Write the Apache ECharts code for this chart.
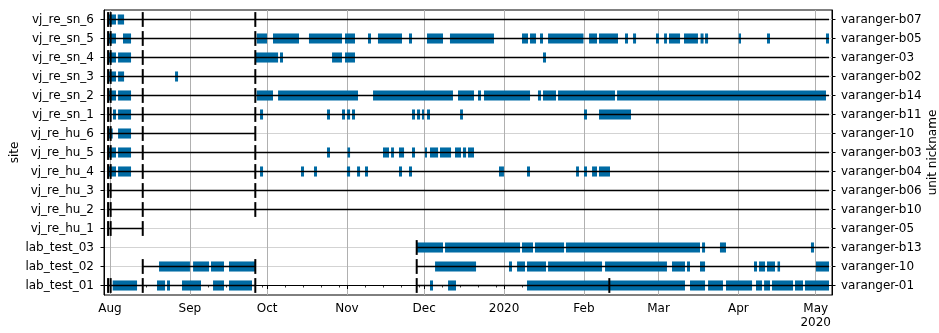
<!DOCTYPE html>
<html>
<head>
<meta charset="utf-8">
<title>Deployment and data coverage per site</title>
<script src="https://cdn.jsdelivr.net/npm/echarts@6/dist/echarts.min.js"></script>
<style>
  html, body { margin: 0; padding: 0; background: #ffffff; }
  #chart { width: 939px; height: 333px; }
</style>
</head>
<body>
<div id="chart"></div>
<script>
// Sites, bottom to top, and the unit nickname deployed at each
const sites = ['lab_test_01', 'lab_test_02', 'lab_test_03', 'vj_re_hu_1', 'vj_re_hu_2', 'vj_re_hu_3',
  'vj_re_hu_4', 'vj_re_hu_5', 'vj_re_hu_6', 'vj_re_sn_1', 'vj_re_sn_2', 'vj_re_sn_3', 'vj_re_sn_4',
  'vj_re_sn_5', 'vj_re_sn_6'];
const nicknames = ['varanger-01', 'varanger-10', 'varanger-b13', 'varanger-05', 'varanger-b10', 'varanger-b06',
  'varanger-b04', 'varanger-b03', 'varanger-10', 'varanger-b11', 'varanger-b14', 'varanger-b02', 'varanger-03',
  'varanger-b05', 'varanger-b07'];

// Time axis range and ticks
const xMin = '2019-07-29 16:00';
const xMax = '2020-05-07 08:00';
const monthTicks = ['2019-08-01', '2019-09-01', '2019-10-01', '2019-11-01', '2019-12-01', '2020-01-01',
  '2020-02-01', '2020-03-01', '2020-04-01', '2020-05-01'];
const monthLabels = ['Aug', 'Sep', 'Oct', 'Nov', 'Dec', '2020', 'Feb', 'Mar', 'Apr', 'May\n2020'];
const minorTicks = ['2019-08-08', '2019-08-15', '2019-08-22', '2019-08-29', '2019-09-08', '2019-09-15',
  '2019-09-22', '2019-09-29', '2019-10-08', '2019-10-15', '2019-10-22', '2019-10-29', '2019-11-08',
  '2019-11-15', '2019-11-22', '2019-11-29', '2019-12-08', '2019-12-15', '2019-12-22', '2019-12-29',
  '2020-01-08', '2020-01-15', '2020-01-22', '2020-01-29', '2020-02-08', '2020-02-15', '2020-02-22',
  '2020-02-29', '2020-03-08', '2020-03-15', '2020-03-22', '2020-03-29', '2020-04-08', '2020-04-15',
  '2020-04-22', '2020-04-29'];

// Deployment spans (black line) per site
const span_lab_test_01 = [['2019-07-31 06:00', '2019-09-26 10:00'], ['2019-11-28 02:00', '2020-05-06 04:00']];
const span_lab_test_02 = [['2019-08-13 17:00', '2019-09-26 10:00'], ['2019-11-28 02:00', '2020-05-06 04:00']];
const span_lab_test_03 = [['2019-11-28 02:00', '2020-05-06 04:00']];
const span_vj_re_hu_1 = [['2019-07-31 06:00', '2019-08-13 17:00']];
const span_vj_re_hu_6 = [['2019-07-31 06:00', '2019-09-26 10:00']];
const span_field = [['2019-07-31 06:00', '2020-05-06 04:00']];

// Service visits (vertical markers) per site
const mark_lab_test_01 = ['2019-07-31 06:00', '2019-08-01 06:00', '2019-08-13 17:00', '2019-09-26 10:00',
  '2019-11-28 02:00', '2020-02-10 21:00'];
const mark_lab_test_02 = ['2019-08-13 17:00', '2019-09-26 10:00', '2019-11-28 02:00'];
const mark_lab_test_03 = ['2019-11-28 02:00'];
const mark_vj_re_hu_1 = ['2019-07-31 06:00', '2019-08-01 06:00', '2019-08-13 17:00'];
const mark_field = ['2019-07-31 06:00', '2019-08-01 06:00', '2019-08-13 17:00', '2019-09-26 10:00'];

// Periods with recorded data (blue bars) per site
const cov_lab_test_01 = [
  ['2019-08-02 01:00', '2019-08-11 12:00'], ['2019-08-19 06:00', '2019-08-22 09:00'],
  ['2019-08-23 03:00', '2019-08-24 07:00'], ['2019-08-28 23:00', '2019-09-05 08:00'],
  ['2019-09-10 00:00', '2019-09-14 06:00'], ['2019-09-16 05:00', '2019-09-25 03:00'],
  ['2019-12-03 06:00', '2019-12-04 10:00'], ['2019-12-10 06:00', '2019-12-13 08:00'],
  ['2020-01-09 22:00', '2020-03-11 06:00'], ['2020-03-13 05:00', '2020-03-19 01:00'],
  ['2020-03-20 05:00', '2020-03-26 00:00'], ['2020-03-27 04:00', '2020-04-06 07:00'],
  ['2020-04-07 20:00', '2020-04-10 04:00'], ['2020-04-10 23:00', '2020-04-13 06:00'],
  ['2020-04-14 01:00', '2020-04-22 05:00'], ['2020-04-22 23:00', '2020-04-26 02:00'],
  ['2020-04-26 20:00', '2020-05-06 04:00']
];
const cov_lab_test_02 = [
  ['2019-08-20 01:00', '2019-09-01 01:00'], ['2019-09-02 06:00', '2019-09-08 11:00'],
  ['2019-09-09 05:00', '2019-09-14 06:00'], ['2019-09-16 05:00', '2019-09-26 07:00'],
  ['2019-12-05 05:00', '2019-12-21 03:00'], ['2020-01-02 22:00', '2020-01-04 02:00'],
  ['2020-01-06 01:00', '2020-01-09 03:00'], ['2020-01-09 22:00', '2020-01-17 07:00'],
  ['2020-01-18 02:00', '2020-02-08 01:00'], ['2020-02-09 05:00', '2020-03-04 06:00'],
  ['2020-03-06 05:00', '2020-03-11 06:00'], ['2020-03-12 01:00', '2020-03-13 05:00'],
  ['2020-03-17 02:00', '2020-03-19 01:00'], ['2020-04-07 01:00', '2020-04-08 05:00'],
  ['2020-04-09 00:00', '2020-04-11 08:00'], ['2020-04-12 02:00', '2020-04-15 05:00'],
  ['2020-04-16 04:00', '2020-04-17 04:00'], ['2020-05-01 03:00', '2020-05-06 04:00']
];
const cov_lab_test_03 = [
  ['2019-11-28 05:00', '2019-12-08 07:00'], ['2019-12-09 02:00', '2020-01-07 05:00'],
  ['2020-01-07 23:00', '2020-01-12 06:00'], ['2020-01-13 00:00', '2020-01-24 07:00'],
  ['2020-01-25 01:00', '2020-03-17 02:00'], ['2020-03-17 21:00', '2020-03-19 01:00'],
  ['2020-03-24 20:00', '2020-03-27 04:00'], ['2020-04-29 04:00', '2020-04-30 08:00']
];
const cov_vj_re_hu_1 = [];
const cov_vj_re_hu_2 = [];
const cov_vj_re_hu_3 = [];
const cov_vj_re_hu_4 = [
  ['2019-07-31 12:00', '2019-08-03 08:00'], ['2019-08-04 03:00', '2019-08-09 04:00'],
  ['2019-09-28 06:00', '2019-09-29 10:00'], ['2019-10-14 04:00', '2019-10-15 08:00'],
  ['2019-10-19 05:00', '2019-10-20 09:00'], ['2019-11-01 00:00', '2019-11-02 05:00'],
  ['2019-11-04 22:00', '2019-11-06 02:00'], ['2019-11-08 00:00', '2019-11-09 04:00'],
  ['2019-11-21 05:00', '2019-11-22 09:00'], ['2019-11-25 02:00', '2019-11-26 06:00'],
  ['2019-12-30 01:00', '2019-12-31 23:00'], ['2020-01-09 22:00', '2020-01-11 02:00'],
  ['2020-01-28 23:00', '2020-01-30 02:00'], ['2020-02-01 01:00', '2020-02-02 05:00'],
  ['2020-02-04 04:00', '2020-02-06 02:00'], ['2020-02-06 21:00', '2020-02-11 03:00']
];
const cov_vj_re_hu_5 = [
  ['2019-07-31 12:00', '2019-08-03 08:00'], ['2019-08-04 03:00', '2019-08-09 04:00'],
  ['2019-10-24 06:00', '2019-10-25 10:00'], ['2019-11-01 05:00', '2019-11-02 05:00'],
  ['2019-11-15 00:00', '2019-11-17 08:00'], ['2019-11-18 03:00', '2019-11-19 06:00'],
  ['2019-11-21 05:00', '2019-11-23 04:00'], ['2019-11-26 06:00', '2019-11-27 10:00'],
  ['2019-12-01 07:00', '2019-12-02 02:00'], ['2019-12-03 06:00', '2019-12-06 09:00'],
  ['2019-12-07 03:00', '2019-12-11 10:00'], ['2019-12-12 23:00', '2019-12-15 07:00'],
  ['2019-12-16 01:00', '2019-12-17 06:00'], ['2019-12-18 00:00', '2019-12-20 08:00']
];
const cov_vj_re_hu_6 = [
  ['2019-07-31 12:00', '2019-08-02 01:00'], ['2019-08-04 03:00', '2019-08-09 04:00']
];
const cov_vj_re_sn_1 = [
  ['2019-08-02 04:00', '2019-08-03 08:00'], ['2019-08-04 03:00', '2019-08-09 04:00'],
  ['2019-09-28 06:00', '2019-09-29 10:00'], ['2019-10-24 06:00', '2019-10-25 10:00'],
  ['2019-10-30 02:00', '2019-10-31 06:00'], ['2019-11-01 00:00', '2019-11-02 05:00'],
  ['2019-11-02 23:00', '2019-11-04 03:00'], ['2019-11-26 06:00', '2019-11-27 10:00'],
  ['2019-11-28 05:00', '2019-11-29 09:00'], ['2019-11-30 03:00', '2019-11-30 22:00'],
  ['2019-12-02 02:00', '2019-12-03 06:00'], ['2019-12-14 22:00', '2019-12-16 01:00'],
  ['2020-02-01 01:00', '2020-02-02 05:00'], ['2020-02-06 21:00', '2020-02-19 07:00']
];
const cov_vj_re_sn_2 = [
  ['2019-07-31 12:00', '2019-08-03 08:00'], ['2019-08-04 03:00', '2019-08-09 04:00'],
  ['2019-09-26 23:00', '2019-10-03 07:00'], ['2019-10-05 06:00', '2019-11-05 07:00'],
  ['2019-11-11 03:00', '2019-12-12 04:00'], ['2019-12-14 03:00', '2019-12-20 08:00'],
  ['2019-12-21 21:00', '2019-12-23 01:00'], ['2019-12-24 05:00', '2020-01-11 02:00'],
  ['2020-01-14 04:00', '2020-01-15 08:00'], ['2020-01-16 03:00', '2020-01-21 04:00'],
  ['2020-01-21 23:00', '2020-02-13 02:00'], ['2020-02-13 21:00', '2020-05-05 00:00']
];
const cov_vj_re_sn_3 = [
  ['2019-07-31 12:00', '2019-08-03 08:00'], ['2019-08-04 03:00', '2019-08-06 11:00'],
  ['2019-08-26 06:00', '2019-08-27 10:00']
];
const cov_vj_re_sn_4 = [
  ['2019-07-31 12:00', '2019-08-03 08:00'], ['2019-08-04 03:00', '2019-08-09 04:00'],
  ['2019-09-26 12:00', '2019-10-05 06:00'], ['2019-10-06 00:00', '2019-10-07 04:00'],
  ['2019-10-26 05:00', '2019-10-30 02:00'], ['2019-10-31 06:00', '2019-11-04 03:00'],
  ['2020-01-16 03:00', '2020-01-17 07:00']
];
const cov_vj_re_sn_5 = [
  ['2019-07-31 12:00', '2019-08-03 08:00'], ['2019-08-06 01:00', '2019-08-09 04:00'],
  ['2019-09-26 23:00', '2019-09-30 23:00'], ['2019-10-03 07:00', '2019-10-13 09:00'],
  ['2019-10-17 06:00', '2019-10-30 02:00'], ['2019-10-31 06:00', '2019-11-04 03:00'],
  ['2019-11-09 04:00', '2019-11-10 08:00'], ['2019-11-13 01:00', '2019-11-22 09:00'],
  ['2019-11-25 02:00', '2019-11-26 06:00'], ['2019-12-02 02:00', '2019-12-08 07:00'],
  ['2019-12-11 00:00', '2019-12-28 02:00'], ['2020-01-07 23:00', '2020-01-10 07:00'],
  ['2020-01-11 02:00', '2020-01-13 10:00'], ['2020-01-14 23:00', '2020-01-16 03:00'],
  ['2020-01-18 02:00', '2020-01-31 20:00'], ['2020-02-03 00:00', '2020-02-06 02:00'],
  ['2020-02-06 21:00', '2020-02-14 06:00'], ['2020-02-16 23:00', '2020-02-18 03:00'],
  ['2020-02-20 02:00', '2020-02-21 06:00'], ['2020-02-29 00:00', '2020-03-01 04:00'],
  ['2020-03-03 03:00', '2020-03-04 06:00'], ['2020-03-05 01:00', '2020-03-09 08:00'],
  ['2020-03-10 21:00', '2020-03-16 07:00'], ['2020-03-17 07:00', '2020-03-18 11:00'],
  ['2020-03-19 01:00', '2020-03-20 05:00'], ['2020-04-01 03:00', '2020-04-02 00:00'],
  ['2020-04-12 02:00', '2020-04-13 06:00'], ['2020-05-05 00:00', '2020-05-06 04:00']
];
const cov_vj_re_sn_6 = [
  ['2019-07-31 12:00', '2019-08-03 08:00'], ['2019-08-04 00:00', '2019-08-06 11:00']
];

// One entry per site, in the same order as `sites`
const rows = [
  { cov: cov_lab_test_01, span: span_lab_test_01, mark: mark_lab_test_01 },
  { cov: cov_lab_test_02, span: span_lab_test_02, mark: mark_lab_test_02 },
  { cov: cov_lab_test_03, span: span_lab_test_03, mark: mark_lab_test_03 },
  { cov: cov_vj_re_hu_1, span: span_vj_re_hu_1, mark: mark_vj_re_hu_1 },
  { cov: cov_vj_re_hu_2, span: span_field, mark: mark_field },
  { cov: cov_vj_re_hu_3, span: span_field, mark: mark_field },
  { cov: cov_vj_re_hu_4, span: span_field, mark: mark_field },
  { cov: cov_vj_re_hu_5, span: span_field, mark: mark_field },
  { cov: cov_vj_re_hu_6, span: span_vj_re_hu_6, mark: mark_field },
  { cov: cov_vj_re_sn_1, span: span_field, mark: mark_field },
  { cov: cov_vj_re_sn_2, span: span_field, mark: mark_field },
  { cov: cov_vj_re_sn_3, span: span_field, mark: mark_field },
  { cov: cov_vj_re_sn_4, span: span_field, mark: mark_field },
  { cov: cov_vj_re_sn_5, span: span_field, mark: mark_field },
  { cov: cov_vj_re_sn_6, span: span_field, mark: mark_field }
];

// 'YYYY-MM-DD HH:mm' -> epoch milliseconds (UTC, so every value uses the same clock)
function ts(s) {
  const parts = s.split(' ');
  const d = parts[0].split('-').map(Number);
  const t = (parts[1] || '00:00').split(':').map(Number);
  return Date.UTC(d[0], d[1] - 1, d[2], t[0], t[1]);
}

const covData = [], spanData = [], markData = [];
rows.forEach((r, i) => {
  r.cov.forEach(p => covData.push([ts(p[0]), ts(p[1]), i]));
  r.span.forEach(p => spanData.push([ts(p[0]), ts(p[1]), i]));
  r.mark.forEach(m => markData.push([ts(m), i]));
});

const rowIdx = sites.map((_, i) => i);
const monthTs = monthTicks.map(ts);
const minorTs = minorTicks.map(ts);
const FONT = 'DejaVu Sans';
const textStyle = { fontFamily: FONT, fontSize: 12, color: '#000' };

const chart = echarts.init(document.getElementById('chart'), null, { renderer: 'canvas' });

chart.setOption({
  animation: false,
  backgroundColor: '#ffffff',
  grid: {
    left: 104, right: 107, top: 10, bottom: 38,
    show: true, borderColor: '#000', borderWidth: 1,
    outerBoundsMode: 'none'
  },
  xAxis: [{
    // time stored as epoch ms on a linear scale
    type: 'value',
    min: ts(xMin), max: ts(xMax),
    axisLine: { show: true, lineStyle: { color: '#000', width: 1 } },
    axisTick: { show: true, customValues: monthTs, length: 3.5, lineStyle: { color: '#000', width: 1 } },
    axisLabel: {
      customValues: monthTs,
      formatter: v => monthLabels[monthTs.indexOf(v)],
      margin: 7, lineHeight: 14, hideOverlap: false, ...textStyle
    },
    splitLine: { show: true, lineStyle: { color: '#b0b0b0', width: 1 } }
  }, {
    type: 'value',
    position: 'bottom',
    min: ts(xMin), max: ts(xMax),
    axisLine: { show: false },
    axisTick: { show: true, customValues: minorTs, length: 2, lineStyle: { color: '#000', width: 0.8 } },
    axisLabel: { show: false },
    splitLine: { show: false }
  }],
  yAxis: [{
    type: 'value',
    position: 'left',
    min: -0.5, max: 14.5,
    name: 'site', nameLocation: 'middle', nameGap: 83, nameRotate: 90, nameMoveOverlap: false,
    nameTextStyle: textStyle,
    axisLine: { show: true, lineStyle: { color: '#000', width: 1 } },
    axisTick: { show: true, customValues: rowIdx, length: 3.5, lineStyle: { color: '#000', width: 1 } },
    axisLabel: { customValues: rowIdx, formatter: v => sites[Math.round(v)], margin: 10, ...textStyle },
    splitLine: { show: true, lineStyle: { color: '#d3d3d3', width: 1.2 } }
  }, {
    type: 'value',
    position: 'right',
    min: -0.5, max: 14.5,
    name: 'unit nickname', nameLocation: 'middle', nameGap: 95, nameRotate: 90, nameMoveOverlap: false,
    nameTextStyle: textStyle,
    axisLine: { show: true, lineStyle: { color: '#000', width: 1 } },
    axisTick: { show: true, customValues: rowIdx, length: 3.5, lineStyle: { color: '#000', width: 1 } },
    axisLabel: { customValues: rowIdx, formatter: v => nicknames[Math.round(v)], margin: 9, ...textStyle },
    splitLine: { show: false }
  }],
  series: [{
    // recorded data periods
    type: 'custom',
    xAxisIndex: 0, yAxisIndex: 0,
    data: covData,
    encode: { x: [0, 1], y: 2 },
    renderItem: (params, api) => {
      const row = api.value(2);
      const a = api.coord([api.value(0), row]);
      const b = api.coord([api.value(1), row]);
      const h = api.size([0, 1])[1] * 0.53;
      return {
        type: 'rect',
        shape: { x: a[0], y: a[1] - h / 2, width: Math.max(b[0] - a[0], 1), height: h },
        style: { fill: '#006BA4' }
      };
    }
  }, {
    // deployment spans
    type: 'custom',
    xAxisIndex: 0, yAxisIndex: 0,
    data: spanData,
    encode: { x: [0, 1], y: 2 },
    renderItem: (params, api) => {
      const row = api.value(2);
      const a = api.coord([api.value(0), row]);
      const b = api.coord([api.value(1), row]);
      return {
        type: 'line',
        shape: { x1: a[0], y1: a[1], x2: b[0], y2: b[1] },
        style: { stroke: '#000', lineWidth: 1.6 }
      };
    }
  }, {
    // service visits
    type: 'custom',
    xAxisIndex: 0, yAxisIndex: 0,
    data: markData,
    encode: { x: 0, y: 1 },
    renderItem: (params, api) => {
      const p = api.coord([api.value(0), api.value(1)]);
      const h = api.size([0, 1])[1] * 0.78;
      return {
        type: 'rect',
        shape: { x: p[0] - 1, y: p[1] - h / 2, width: 2, height: h },
        style: { fill: '#000' }
      };
    }
  }]
});
</script>
</body>
</html>
